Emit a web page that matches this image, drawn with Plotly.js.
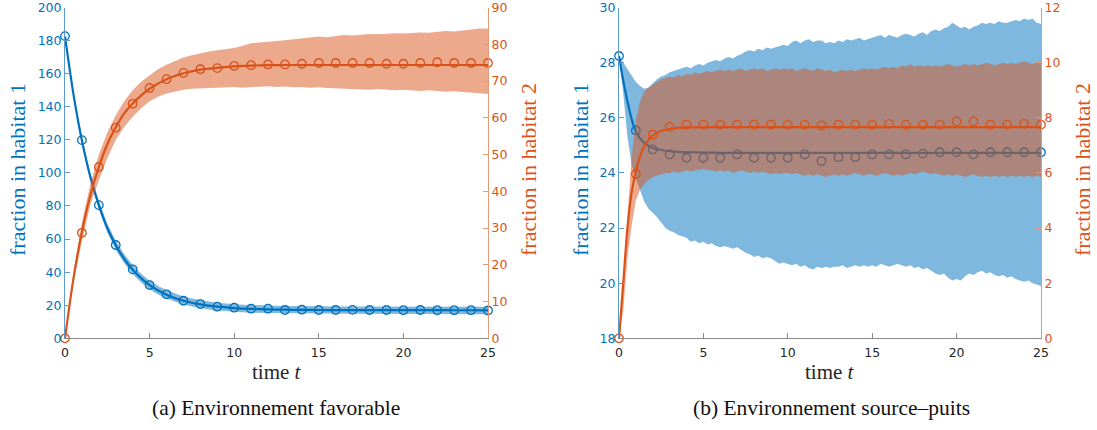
<!DOCTYPE html>
<html><head><meta charset="utf-8">
<script src="https://cdn.plot.ly/plotly-3.0.1.min.js"></script>
<style>html,body{margin:0;padding:0;background:#fff;}#chart{width:1097px;height:430px;}</style>
</head><body><div id="chart"></div>
<script>
// ---------- shared ----------
var tMarkers = [0,1,2,3,4,5,6,7,8,9,10,11,12,13,14,15,16,17,18,19,20,21,22,23,24,25];
var xTicks = [0,5,10,15,20,25];
var yTicksA1 = [0,20,40,60,80,100,120,140,160,180,200];
var yTicksA2 = [0,10,20,30,40,50,60,70,80,90];
var yTicksB1 = [18,20,22,24,26,28,30];
var yTicksB2 = [0,2,4,6,8,10,12];

// ---------- panel (a): Environnement favorable ----------
var tLineA = [0,0.5,1,1.5,2,2.5,3,3.5,4,5,6,7,8,9,10,11,12,13,14,15,16,17,18,19,20,21,22,23,24,25];
var lineA1 = [182.5,147.5,119.5,97.5,80.5,66.7,56.3,48,41.5,32.2,26.4,22.7,20.5,19.1,18.3,17.8,17.5,17.3,17.2,17.1,17.05,17.0,17.0,17.0,17.0,17.0,17.0,16.95,16.95,16.9];
var lineA2 = [0,16.3,29,38.9,46.6,52.8,57.4,61.2,63.9,67.9,70.5,72.1,73.1,73.6,74.0,74.2,74.3,74.35,74.35,74.35,74.35,74.35,74.35,74.35,74.35,74.35,74.35,74.35,74.35,74.35];
var markA1 = [182.7,119.8,80.5,56.4,41.7,32.2,26.6,22.7,20.7,19.1,18.5,17.9,17.9,17.1,17.3,17.1,17.1,17.2,17.1,17.1,17.0,17.1,17.0,17.0,17.0,16.8];
var markA2 = [0,28.7,46.6,57.3,63.8,68.1,70.5,72.2,73.2,73.5,74.1,74.3,74.5,74.5,74.7,74.9,74.9,74.9,74.9,74.7,74.7,74.9,75.1,74.9,74.9,74.9];

var tBandA = [0,0.5,1,1.5,2,2.5,3,3.5,4,4.5,5,5.5,6,6.5,7,7.5,8,8.5,9,9.5,10,10.5,11,11.5,12,12.5,13,13.5,14,14.5,15,15.5,16,16.5,17,17.5,18,18.5,19,19.5,20,20.5,21,21.5,22,22.5,23,23.5,24,24.5,25];
var bandA1Hi = [183,149.5,121.5,100,83,69.3,59,50.8,44.3,39,34.8,31.6,29,26.9,25.2,24,23,22.2,21.5,21,20.6,20.3,20.1,19.9,19.8,19.7,19.6,19.6,19.5,19.5,19.4,19.4,19.4,19.3,19.3,19.3,19.3,19.2,19.2,19.2,19.2,19.2,19.1,19.1,19.1,19.1,19.1,19.0,19.0,19.0,19.0];
var bandA1Lo = [182,146.5,117.5,95,78,64,53.6,45.3,38.8,33.7,29.7,26.5,24,22,20.4,19.2,18.2,17.4,16.8,16.3,16,15.7,15.5,15.4,15.3,15.2,15.1,15.0,15.0,14.9,14.9,14.9,14.8,14.8,14.8,14.8,14.7,14.7,14.7,14.7,14.7,14.7,14.6,14.6,14.6,14.6,14.6,14.6,14.6,14.6,14.6];
var bandA2Hi = [0,17.5,31.5,42,50,56,60.7,64.5,67.5,69.8,71.6,73.2,74.4,75.5,76.4,77,77.6,78,78.4,78.6,79,79.6,80.3,80.5,80.6,80.9,81.1,81.4,81.5,81.8,82.1,81.9,82.2,82.5,82.4,82.6,82.8,82.7,82.9,83,82.9,83.1,83.2,83.1,83.3,83.6,83.5,83.7,84,84.3,84.2];
var bandA2Lo = [0,15,26.5,36.5,43,49,54,57.5,60.3,62.6,64.5,65.7,66.6,67.2,67.6,67.9,68,68.2,68.3,68.3,68.4,68.2,68.3,68.5,68.6,68.4,68.5,68.3,68.4,68.2,68.3,68.1,68,67.8,67.9,67.7,67.6,67.8,67.6,67.5,67.6,67.4,67.3,67.5,67.3,67.1,67.2,67.0,66.8,66.7,66.5];

// ---------- panel (b): Environnement source-puits ----------
var tLineB = [0,0.25,0.5,0.75,1,1.25,1.5,1.75,2,2.5,3,3.5,4,5,6,7,8,9,10,11,12,13,14,15,16,17,18,19,20,21,22,23,24,25];
var lineB1 = [28.24,27.35,26.6,25.95,25.5,25.25,25.1,24.98,24.9,24.83,24.79,24.76,24.75,24.74,24.73,24.73,24.73,24.73,24.73,24.73,24.73,24.73,24.73,24.73,24.73,24.73,24.73,24.73,24.73,24.73,24.73,24.73,24.73,24.73];
var lineB2 = [0,2.0,4.0,5.3,6.05,6.6,6.97,7.2,7.36,7.52,7.6,7.63,7.65,7.66,7.66,7.66,7.66,7.66,7.66,7.66,7.66,7.66,7.66,7.66,7.66,7.66,7.66,7.66,7.66,7.66,7.66,7.66,7.66,7.66];
var markB1 = [28.24,25.54,24.85,24.67,24.55,24.55,24.55,24.67,24.55,24.55,24.55,24.67,24.43,24.57,24.57,24.67,24.67,24.67,24.7,24.75,24.75,24.67,24.75,24.75,24.75,24.75];
var markB2 = [0,5.96,7.39,7.67,7.75,7.75,7.75,7.75,7.75,7.75,7.75,7.75,7.72,7.75,7.75,7.75,7.78,7.75,7.75,7.75,7.87,7.87,7.75,7.75,7.78,7.75];

var tBandB = [0,0.25,0.5,0.75,1,1.25,1.5,1.75,2,2.25,2.5,2.75,3,3.25,3.5,3.75,4,4.25,4.5,4.75,5,5.25,5.5,5.75,6,6.25,6.5,6.75,7,7.25,7.5,7.75,8,8.25,8.5,8.75,9,9.25,9.5,9.75,10,10.25,10.5,10.75,11,11.25,11.5,11.75,12,12.25,12.5,12.75,13,13.25,13.5,13.75,14,14.25,14.5,14.75,15,15.25,15.5,15.75,16,16.25,16.5,16.75,17,17.25,17.5,17.75,18,18.25,18.5,18.75,19,19.25,19.5,19.75,20,20.25,20.5,20.75,21,21.25,21.5,21.75,22,22.25,22.5,22.75,23,23.25,23.5,23.75,24,24.25,24.5,24.75,25];
var bandB1Hi = [28.24,28.0,27.75,27.5,27.3,27.15,27.05,27.1,27.25,27.4,
 27.5,27.55,27.65,27.7,27.75,27.8,27.85,27.8,27.9,27.95,
 27.9,28.0,28.05,28.1,28.05,28.15,28.2,28.15,28.25,28.3,
 28.4,28.45,28.4,28.5,28.45,28.55,28.5,28.55,28.6,28.65,
 28.6,28.75,28.8,28.7,28.8,28.85,28.75,28.8,28.8,28.7,
 28.75,28.7,28.8,28.75,28.85,28.8,28.85,28.9,28.8,28.85,
 28.9,28.95,29.0,28.9,29.0,28.95,28.9,29.0,29.05,29.0,
 28.95,29.05,29.1,29.0,29.15,29.2,29.15,29.25,29.3,29.45,
 29.35,29.25,29.3,29.2,29.3,29.35,29.45,29.4,29.45,29.4,
 29.5,29.45,29.45,29.5,29.55,29.5,29.6,29.55,29.6,29.45,
 29.4];
var bandB1Lo = [28.24,26.9,25.3,24.3,23.8,23.4,22.95,22.7,22.55,22.4,
 22.2,22.0,21.9,21.85,21.75,21.7,21.65,21.5,21.55,21.45,
 21.5,21.4,21.45,21.35,21.3,21.35,21.3,21.25,21.3,21.2,
 21.1,21.05,20.95,21.0,20.9,20.95,20.9,20.8,20.7,20.75,
 20.7,20.65,20.7,20.6,20.65,20.55,20.5,20.6,20.55,20.6,
 20.55,20.6,20.6,20.65,20.55,20.6,20.65,20.6,20.65,20.6,
 20.65,20.6,20.7,20.65,20.6,20.65,20.7,20.65,20.6,20.65,
 20.55,20.6,20.5,20.55,20.45,20.35,20.3,20.35,20.2,20.1,
 20.15,20.1,20.25,20.35,20.3,20.4,20.45,20.35,20.4,20.3,
 20.25,20.3,20.2,20.25,20.15,20.1,20.05,20.1,20.0,19.95,
 19.9];
var bandB2Hi = [0,2.3,4.6,6.6,7.9,8.6,8.95,9.1,9.2,9.3,
 9.4,9.45,9.5,9.45,9.55,9.5,9.6,9.55,9.65,9.6,
 9.65,9.7,9.65,9.7,9.75,9.7,9.75,9.7,9.75,9.8,
 9.7,9.75,9.8,9.75,9.8,9.7,9.75,9.8,9.75,9.8,
 9.75,9.8,9.7,9.75,9.8,9.75,9.7,9.8,9.75,9.7,
 9.75,9.65,9.7,9.75,9.7,9.75,9.7,9.75,9.8,9.75,
 9.8,9.75,9.8,9.85,9.8,9.85,9.8,9.9,9.85,9.95,
 9.85,9.9,9.85,9.9,9.85,9.9,9.85,9.9,9.95,9.9,
 9.85,9.9,9.95,9.9,9.95,9.9,9.95,10.0,9.95,9.9,
 9.95,10.0,9.95,10.0,9.95,10.0,10.05,10.0,9.95,10.0,
 10.05];
var bandB2Lo = [0,1.0,2.9,4.1,5.0,5.4,5.6,5.75,5.85,5.9,
 5.95,6.0,6.0,6.05,6.0,6.05,6.1,6.05,6.1,6.1,
 6.15,6.1,6.1,6.05,6.1,6.05,6.1,6.0,6.05,6.1,
 6.05,6.0,6.05,6.0,6.05,6.0,5.95,6.0,5.95,6.0,
 6.0,5.95,6.0,5.95,5.9,5.95,5.9,5.95,5.9,5.85,
 5.9,5.95,5.9,5.95,5.9,5.95,6.0,5.95,5.9,5.95,
 5.95,5.9,5.95,6.0,5.95,5.9,5.95,5.9,5.95,6.0,
 5.95,6.0,6.05,6.0,5.95,6.0,5.95,5.9,5.95,5.9,
 5.95,5.9,5.85,5.9,5.95,5.9,5.85,5.9,5.85,5.9,
 5.85,5.9,5.85,5.9,5.85,5.9,5.85,5.9,5.85,5.9,
 5.85];

// ---------- styles ----------
var BLUE = '#0072BD', ORANGE = '#D95319';
var BLUE_FILL = 'rgba(0,114,189,0.5)', ORANGE_FILL = 'rgba(217,83,25,0.5)';

function band(t, lo, hi, fillc, xa, ya) {
  return [
    {x:t, y:lo, xaxis:xa, yaxis:ya, type:'scatter', mode:'lines', line:{width:0, color:fillc}, hoverinfo:'skip', showlegend:false},
    {x:t, y:hi, xaxis:xa, yaxis:ya, type:'scatter', mode:'lines', fill:'tonexty', fillcolor:fillc, line:{width:0, color:fillc}, hoverinfo:'skip', showlegend:false}
  ];
}
function curve(t, y, c, xa, ya) {
  return {x:t, y:y, xaxis:xa, yaxis:ya, type:'scatter', mode:'lines', line:{color:c, width:2.2, shape:'spline', smoothing:0.8}, showlegend:false};
}
function marks(t, y, c, xa, ya) {
  return {x:t, y:y, xaxis:xa, yaxis:ya, type:'scatter', mode:'markers', cliponaxis:false,
    marker:{symbol:'circle-open', size:8.5, color:c, line:{width:1.3, color:c}}, showlegend:false};
}

var data = [].concat(
  band(tBandA, bandA1Lo, bandA1Hi, BLUE_FILL, 'x', 'y'),
  [curve(tLineA, lineA1, BLUE, 'x', 'y'), marks(tMarkers, markA1, BLUE, 'x', 'y')],
  band(tBandA, bandA2Lo, bandA2Hi, ORANGE_FILL, 'x', 'y2'),
  [curve(tLineA, lineA2, ORANGE, 'x', 'y2'), marks(tMarkers, markA2, ORANGE, 'x', 'y2')],
  band(tBandB, bandB1Lo, bandB1Hi, BLUE_FILL, 'x2', 'y3'),
  [curve(tLineB, lineB1, BLUE, 'x2', 'y3'), marks(tMarkers, markB1, BLUE, 'x2', 'y3')],
  band(tBandB, bandB2Lo, bandB2Hi, ORANGE_FILL, 'x2', 'y4'),
  [curve(tLineB, lineB2, ORANGE, 'x2', 'y4'), marks(tMarkers, markB2, ORANGE, 'x2', 'y4')]
);

var W = 1097, H = 430;
var yDom = [(H-338.3)/H, (H-7.5)/H];
var TICKF = 'DejaVu Sans';
function xax(dom, anchor) {
  return {domain:dom, anchor:anchor, range:[0,25], tickvals:xTicks, ticks:'inside', ticklen:5, tickwidth:1,
    tickcolor:'#8a8a8a', showline:true, linecolor:'#8a8a8a', linewidth:1, showgrid:false, zeroline:false,
    ticklabelstandoff:3, ticklabeloverflow:'allow',
    tickfont:{family:TICKF, size:12.5, color:'#262626'}, fixedrange:true};
}
function yax(range, ticks, col, linecol, anchor, side, overlay) {
  var a = {domain:yDom, anchor:anchor, range:range, tickmode:'array', tickvals:ticks, ticks:'inside', ticklen:5, tickwidth:1,
    tickcolor:linecol, showline:true, linecolor:linecol, linewidth:1, showgrid:false, zeroline:false,
    ticklabeloverflow:'allow',
    tickfont:{family:TICKF, size:12.5, color:col}, side:side, fixedrange:true};
  if (overlay) a.overlaying = overlay;
  return a;
}

var SERIF = 'Liberation Serif';
function ann(text, x, y, col, size, angle) {
  return {text:text, xref:'paper', yref:'paper', x:x/W, y:(H-y)/H, xanchor:'center', yanchor:'middle',
    showarrow:false, textangle:angle||0, font:{family:SERIF, size:size, color:col}};
}

var layout = {
  width:W, height:H, margin:{l:0, r:0, t:0, b:0}, paper_bgcolor:'#ffffff', plot_bgcolor:'rgba(0,0,0,0)',
  showlegend:false,
  xaxis: xax([65/W, 488/W], 'y'),
  yaxis: yax([0,200], yTicksA1, BLUE, '#5b9bd0', 'x', 'left'),
  yaxis2: yax([0,90], yTicksA2, ORANGE, '#e39a7a', 'x', 'right', 'y'),
  xaxis2: xax([619/W, 1041/W], 'y3'),
  yaxis3: yax([18,30], yTicksB1, BLUE, '#5b9bd0', 'x2', 'left'),
  yaxis4: yax([0,12], yTicksB2, ORANGE, '#e39a7a', 'x2', 'right', 'y3'),
  annotations: [
    ann('fraction in habitat 1', 17, 170, BLUE, 22, -90),
    ann('fraction in habitat 2', 528, 170, ORANGE, 22, -90),
    ann('fraction in habitat 1', 580, 170, BLUE, 22, -90),
    ann('fraction in habitat 2', 1082, 170, ORANGE, 22, -90),
    ann('time <i>t</i>', 276.5, 372, '#262626', 21),
    ann('time <i>t</i>', 830, 372, '#262626', 21),
    ann('(a) Environnement favorable', 276, 408, '#111111', 21.5),
    ann('(b) Environnement source–puits', 831, 408, '#111111', 21.5)
  ]
};

Plotly.newPlot('chart', data, layout, {displayModeBar:false, staticPlot:true});
</script></body></html>
